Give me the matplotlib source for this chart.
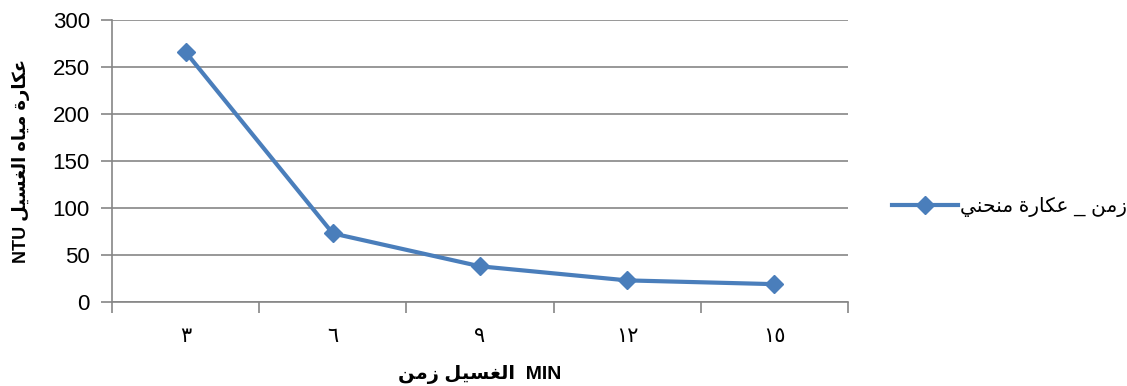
import numpy as np
import matplotlib
matplotlib.use('Agg')
from matplotlib import pyplot as plt

# wash time categories (arabic-indic digits) and turbidity readings
times = ['٣', '٦', '٩', '١٢', '١٥']
turbidity = [266, 73, 38, 23, 19]
yticks = [0, 50, 100, 150, 200, 250, 300]

# presentation forms: isolated, final, initial, medial (0 = no such form)
FORMS = {
    'ا': (0xFE8D, 0xFE8E, 0, 0),
    'ة': (0xFE93, 0xFE94, 0, 0),
    'ح': (0xFEA1, 0xFEA2, 0xFEA3, 0xFEA4),
    'ر': (0xFEAD, 0xFEAE, 0, 0),
    'ز': (0xFEAF, 0xFEB0, 0, 0),
    'س': (0xFEB1, 0xFEB2, 0xFEB3, 0xFEB4),
    'ع': (0xFEC9, 0xFECA, 0xFECB, 0xFECC),
    'غ': (0xFECD, 0xFECE, 0xFECF, 0xFED0),
    'ك': (0xFED9, 0xFEDA, 0xFEDB, 0xFEDC),
    'ل': (0xFEDD, 0xFEDE, 0xFEDF, 0xFEE0),
    'م': (0xFEE1, 0xFEE2, 0xFEE3, 0xFEE4),
    'ن': (0xFEE5, 0xFEE6, 0xFEE7, 0xFEE8),
    'ه': (0xFEE9, 0xFEEA, 0xFEEB, 0xFEEC),
    'ي': (0xFEF1, 0xFEF2, 0xFEF3, 0xFEF4),
}

def joinsNext(c):
    return c in FORMS and FORMS[c][2] != 0

# shape arabic letters and flip to visual (left to right) order
def ar(text):
    out = []
    for i, c in enumerate(text):
        if c not in FORMS:
            out.append(c)
            continue
        prev = text[i-1] if i > 0 else ''
        nxt = text[i+1] if i + 1 < len(text) else ''
        before = joinsNext(prev)
        after = joinsNext(c) and nxt in FORMS
        iso, fin, ini, med = FORMS[c]
        if before and after:
            out.append(chr(med))
        elif before:
            out.append(chr(fin))
        elif after:
            out.append(chr(ini))
        else:
            out.append(chr(iso))
    return ''.join(out[::-1])

fam = ['Liberation Sans', 'DejaVu Sans']
plt.rcParams['font.family'] = fam

fig = plt.figure(figsize=(11.27, 3.86), dpi=100)
ax = fig.add_axes([0.0994, 0.2176, 0.653, 0.7304])

x = np.arange(len(times))
ax.plot(x, turbidity, color='#4A7EBB', lw=3, marker='D', ms=9,
        label=ar('زمن _ عكارة منحني'))

ax.set_xlim(-0.5, len(times) - 0.5)
ax.set_ylim(0, 300)
ax.set_yticks(yticks)
ax.set_xticks(x)
ax.set_xticklabels(times, family=['DejaVu Serif', 'DejaVu Sans'], fontsize=15)
ax.set_xticks(np.arange(-0.5, len(times)), minor=True)
ax.tick_params(axis='x', which='major', length=0, pad=18)
ax.tick_params(axis='x', which='minor', length=8, width=1.2, color='#868686')
ax.tick_params(axis='y', length=8, width=1.2, color='#868686', labelsize=16, pad=8)
ax.grid(axis='y', color='#868686', lw=1.2)
ax.set_axisbelow(True)

for s in ['top', 'right']:
    ax.spines[s].set_visible(False)
for s in ['left', 'bottom']:
    ax.spines[s].set_color('#868686')
    ax.spines[s].set_linewidth(1.2)

ax.set_xlabel(ar('الغسيل زمن') + '  MIN', fontsize=14, fontweight='bold', labelpad=14)
ax.set_ylabel('NTU ' + ar('عكارة مياه الغسيل'), fontsize=13, fontweight='bold', labelpad=16)

ax.legend(loc='center left', bbox_to_anchor=(1.035, 0.337), frameon=False,
          handlelength=3.3, handletextpad=0.1, fontsize=14.5)

fig.savefig('out.png', dpi=100)
